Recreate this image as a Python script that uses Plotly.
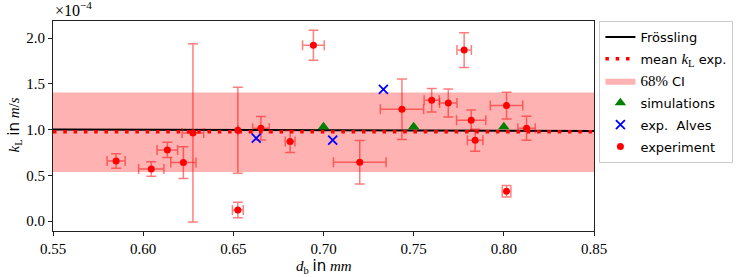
import plotly.graph_objects as go

# ---- data (k_L in units of 1e-4 m/s, d_b in mm) ----
exp_db = [0.585, 0.6045, 0.6134, 0.6223, 0.6276, 0.6525, 0.6525, 0.6653, 0.6815, 0.6944,
          0.7201, 0.7435, 0.7600, 0.7692, 0.7780, 0.7819, 0.7841, 0.8015, 0.8015, 0.8126]
exp_kl = [0.656, 0.569, 0.777, 0.639, 0.963, 0.992, 0.120, 1.014, 0.869, 1.922,
          0.642, 1.222, 1.320, 1.291, 1.868, 1.100, 0.883, 1.262, 0.325, 1.014]
exp_kl_err = [0.080, 0.080, 0.084, 0.173, 0.975, 0.470, 0.084, 0.128, 0.120, 0.164,
              0.237, 0.330, 0.128, 0.153, 0.190, 0.113, 0.120, 0.146, 0.062, 0.130]
exp_db_err = [0.005, 0.007, 0.0057, 0.007, 0.006, 0.0, 0.003, 0.0046, 0.0027, 0.006,
              0.0146, 0.012, 0.0042, 0.0048, 0.004, 0.0081, 0.0043, 0.009, 0.0024, 0.0048]

sim_db = [0.70, 0.75, 0.80]
sim_kl = [1.03, 1.03, 1.03]

alves_db = [0.6627, 0.7051, 0.7332]
alves_kl = [0.905, 0.883, 1.438]

froessling_db = [0.55, 0.85]
froessling_kl = [1.000, 0.985]

mean_kl = 0.975
ci_low, ci_high = 0.536, 1.405

x_range = [0.55, 0.85]
y_range = [-0.109, 2.186]
x_ticks = [0.55, 0.60, 0.65, 0.70, 0.75, 0.80, 0.85]
y_ticks = [0.0, 0.5, 1.0, 1.5, 2.0]

SERIF = "Liberation Serif, Times New Roman, serif"
SANS = "DejaVu Sans, sans-serif"
SER_SPAN = "font-family:Liberation Serif;font-size:15px"
SANS_SPAN = "font-family:DejaVu Sans"

fig = go.Figure()

# 68% CI band
fig.add_trace(go.Scatter(x=x_range, y=[ci_high, ci_high], mode="lines",
                         line=dict(width=0, color="rgba(0,0,0,0)"),
                         showlegend=False, hoverinfo="skip", legendgroup="ci"))
fig.add_trace(go.Scatter(x=x_range, y=[ci_low, ci_low], mode="lines",
                         line=dict(width=0, color="rgba(0,0,0,0)"),
                         fill="tonexty", fillcolor="rgba(255,0,0,0.3)",
                         name=f'<span style="{SER_SPAN}">68%</span> CI',
                         legendrank=3, legendgroup="ci"))

# Frössling
fig.add_trace(go.Scatter(x=froessling_db, y=froessling_kl, mode="lines",
                         line=dict(color="black", width=2),
                         name="Frössling", legendrank=1, legendgroup="fr"))

# mean
fig.add_trace(go.Scatter(x=x_range, y=[mean_kl, mean_kl], mode="lines",
                         line=dict(color="red", width=3.5, dash="3.5px,6.8px"),
                         name=f'mean <span style="{SER_SPAN}"><i>k</i><sub>L</sub></span> exp.',
                         legendrank=2, legendgroup="mean"))

# experiment
fig.add_trace(go.Scatter(x=exp_db, y=exp_kl, mode="markers",
                         marker=dict(color="red", size=7, symbol="circle"),
                         error_y=dict(type="data", array=exp_kl_err, color="rgba(255,0,0,0.5)",
                                      thickness=1.5, width=5),
                         error_x=dict(type="data", array=exp_db_err, color="rgba(255,0,0,0.5)",
                                      thickness=1.5, width=5),
                         name="experiment", legendrank=6, legendgroup="exp"))

# simulations
fig.add_trace(go.Scatter(x=sim_db, y=sim_kl, mode="markers",
                         marker=dict(color="green", size=10, symbol="triangle-up"),
                         name="simulations", legendrank=4, legendgroup="sim"))

# Alves
fig.add_trace(go.Scatter(x=alves_db, y=alves_kl, mode="markers",
                         marker=dict(color="blue", size=9, symbol="x-thin",
                                     line=dict(color="blue", width=1.8)),
                         name="exp.&nbsp; Alves", legendrank=5, legendgroup="alves"))

fig.update_layout(
    width=748, height=277, autosize=False,
    margin=dict(l=53, r=154, t=21, b=46),
    plot_bgcolor="white", paper_bgcolor="white",
    font=dict(family=SERIF, size=14, color="black"),
    legend=dict(x=1.01, y=1.0, xanchor="left", yanchor="top",
                bordercolor="#cccccc", borderwidth=1,
                font=dict(family=SANS, size=13, color="black"),
                bgcolor="white", traceorder="grouped", tracegroupgap=2),
    xaxis=dict(range=x_range, tickvals=x_ticks, tickformat=".2f", automargin=False,
               showgrid=False, zeroline=False, showline=True, mirror=True,
               linecolor="#222222", linewidth=1, ticks="outside", ticklen=4,
               tickcolor="#222222",
               tickfont=dict(family=SERIF, size=15)),
    yaxis=dict(range=y_range, tickvals=y_ticks, tickformat=".1f", automargin=False,
               showgrid=False, zeroline=False, showline=True, mirror=True,
               linecolor="#222222", linewidth=1, ticks="outside", ticklen=4,
               tickcolor="#222222",
               tickfont=dict(family=SERIF, size=15)),
    annotations=[
        dict(text="×10<sup>−4</sup>", xref="paper", yref="paper",
             x=0.0, y=1.0, xanchor="left", yanchor="bottom",
             showarrow=False, font=dict(family=SERIF, size=16)),
        dict(text=f'<i>d</i><sub>b</sub> <span style="{SANS_SPAN}">in</span> <i>mm</i>',
             xref="paper", yref="paper", x=0.5, y=-0.168, xanchor="center", yanchor="middle",
             showarrow=False, font=dict(family=SERIF, size=15)),
        dict(text=f'<i>k</i><sub>L</sub> <span style="{SANS_SPAN}">in</span> <i>m</i>/<i>s</i>',
             xref="paper", yref="paper", x=-0.071, y=0.505, xanchor="center", yanchor="middle",
             textangle=-90, showarrow=False, font=dict(family=SERIF, size=15)),
    ],
)

fig.write_html("out.html", config={"displayModeBar": False},
               post_script="document.body.style.margin='0';document.body.style.overflow='hidden';")
